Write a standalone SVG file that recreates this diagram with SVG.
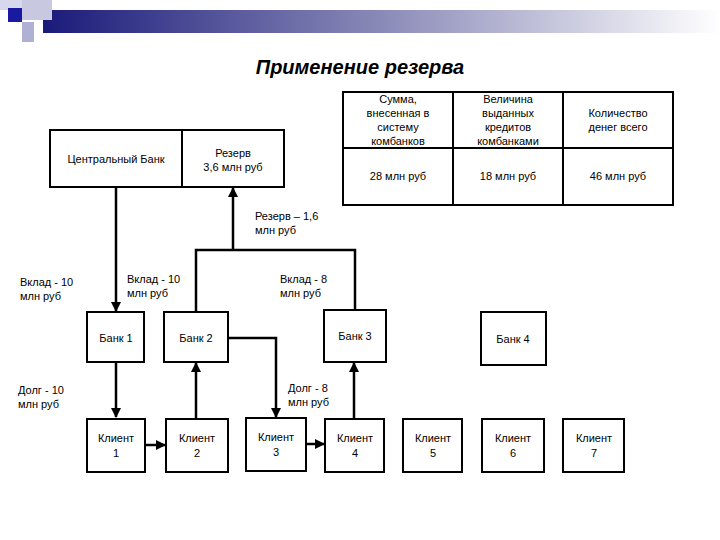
<svg xmlns="http://www.w3.org/2000/svg" width="720" height="540" viewBox="0 0 720 540">
<defs>
<linearGradient id="bar" x1="0" x2="1" y1="0" y2="0"><stop offset="0" stop-color="#1a1a7a"/><stop offset="0.5" stop-color="#8a8ab8"/><stop offset="1" stop-color="#ffffff"/></linearGradient>
<marker id="ah" viewBox="0 0 10 10" refX="9" refY="5" markerWidth="4" markerHeight="4" orient="auto"><path d="M0,0 L10,5 L0,10 z" fill="#000"/></marker>
<style>
.b{fill:#fff;stroke:#000;stroke-width:2}
.t{font-family:"Liberation Sans",Arial,sans-serif;font-size:11px;text-anchor:middle;fill:#000}
.l{font-family:"Liberation Sans",Arial,sans-serif;font-size:11px;fill:#000}
.c{fill:none;stroke:#000;stroke-width:2.5}
</style>
</defs>
<rect width="720" height="540" fill="#fff"/>
<g id="decor">
<rect x="43" y="10" width="677" height="23" fill="url(#bar)"/>
<rect x="0" y="0" width="22" height="10" fill="#d8d8ec"/>
<rect x="22" y="0" width="30" height="20" fill="#c8c8e0"/>
<rect x="8" y="8" width="14" height="14" fill="#1a1aa0"/>
<rect x="22" y="22" width="12" height="20" fill="#b0b0d4"/>
</g>
<text x="360" y="74" font-family="Liberation Sans,Arial,sans-serif" font-size="20" font-weight="bold" font-style="italic" text-anchor="middle">Применение резерва</text>
<g id="table">
<rect class="b" x="343" y="92" width="330" height="113"/>
<line x1="343" y1="148" x2="673" y2="148" stroke="#000" stroke-width="2"/>
<line x1="453" y1="92" x2="453" y2="205" stroke="#000" stroke-width="2"/>
<line x1="563" y1="92" x2="563" y2="205" stroke="#000" stroke-width="2"/>
<text class="t" x="398" y="103">Сумма,</text><text class="t" x="398" y="117">внесенная в</text><text class="t" x="398" y="131">систему</text><text class="t" x="398" y="145">комбанков</text>
<text class="t" x="508" y="103">Величина</text><text class="t" x="508" y="117">выданных</text><text class="t" x="508" y="131">кредитов</text><text class="t" x="508" y="145">комбанками</text>
<text class="t" x="618" y="117">Количество</text><text class="t" x="618" y="131">денег всего</text>
<text class="t" x="398" y="180">28 млн руб</text><text class="t" x="508" y="180">18 млн руб</text><text class="t" x="618" y="180">46 млн руб</text>
</g>
<g id="cb"><rect class="b" x="50" y="130" width="234" height="57"/><line x1="182" y1="130" x2="182" y2="187" stroke="#000" stroke-width="2"/>
<text class="t" x="116" y="163">Центральный Банк</text><text class="t" x="233" y="157">Резерв</text><text class="t" x="233" y="171">3,6 млн руб</text></g>
<g id="connectors">
<line class="c" x1="116" y1="187" x2="116" y2="311" marker-end="url(#ah)"/>
<polyline class="c" points="196,312 196,250 355,250 355,310"/>
<line class="c" x1="233" y1="250" x2="233" y2="188" marker-end="url(#ah)"/>
<polyline class="c" points="228,338 276,338 276,417" marker-end="url(#ah)"/>
<line class="c" x1="116" y1="362" x2="116" y2="417" marker-end="url(#ah)"/>
<line class="c" x1="145" y1="445" x2="165" y2="445" marker-end="url(#ah)"/>
<line class="c" x1="196" y1="418" x2="196" y2="363" marker-end="url(#ah)"/>
<line class="c" x1="306" y1="444" x2="324" y2="444" marker-end="url(#ah)"/>
<line class="c" x1="354" y1="418" x2="354" y2="363" marker-end="url(#ah)"/>
</g>
<g id="b1"><rect class="b" x="87" y="312" width="57" height="50"/><text class="t" x="116" y="342">Банк 1</text></g>
<g id="b2"><rect class="b" x="164" y="312" width="64" height="50"/><text class="t" x="196" y="342">Банк 2</text></g>
<g id="b3"><rect class="b" x="324" y="310" width="62" height="52"/><text class="t" x="355" y="340">Банк 3</text></g>
<g id="b4"><rect class="b" x="481" y="312" width="65" height="53"/><text class="t" x="513" y="343">Банк 4</text></g>
<g id="k1"><rect class="b" x="87" y="419" width="58" height="53"/><text class="t" x="116" y="442">Клиент</text><text class="t" x="116" y="457">1</text></g>
<g id="k2"><rect class="b" x="166" y="419" width="62" height="53"/><text class="t" x="197" y="442">Клиент</text><text class="t" x="197" y="457">2</text></g>
<g id="k3"><rect class="b" x="246" y="418" width="60" height="53"/><text class="t" x="276" y="441">Клиент</text><text class="t" x="276" y="456">3</text></g>
<g id="k4"><rect class="b" x="325" y="419" width="59" height="53"/><text class="t" x="355" y="442">Клиент</text><text class="t" x="355" y="457">4</text></g>
<g id="k5"><rect class="b" x="403" y="419" width="59" height="53"/><text class="t" x="433" y="442">Клиент</text><text class="t" x="433" y="457">5</text></g>
<g id="k6"><rect class="b" x="482" y="419" width="62" height="53"/><text class="t" x="513" y="442">Клиент</text><text class="t" x="513" y="457">6</text></g>
<g id="k7"><rect class="b" x="563" y="419" width="61" height="53"/><text class="t" x="594" y="442">Клиент</text><text class="t" x="594" y="457">7</text></g>
<g id="labels">
<text class="l" x="255" y="220">Резерв – 1,6</text><text class="l" x="255" y="234">млн руб</text>
<text class="l" x="20" y="286">Вклад - 10</text><text class="l" x="20" y="300">млн руб</text>
<text class="l" x="127" y="283">Вклад - 10</text><text class="l" x="127" y="297">млн руб</text>
<text class="l" x="280" y="283">Вклад - 8</text><text class="l" x="280" y="297">млн руб</text>
<text class="l" x="18" y="394">Долг - 10</text><text class="l" x="18" y="408">млн руб</text>
<text class="l" x="288" y="392">Долг - 8</text><text class="l" x="288" y="406">млн руб</text>
</g>
</svg>
